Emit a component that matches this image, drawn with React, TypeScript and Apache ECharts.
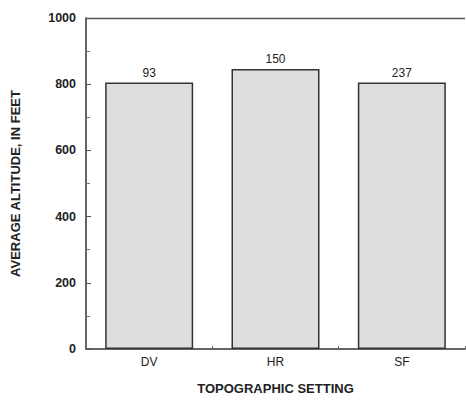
import React, { useEffect, useRef } from "react";
import * as echarts from "echarts";

const categories = ["DV", "HR", "SF"];
const altitudes = [805, 846, 805];
const sampleSizes = ["93", "150", "237"];
const yTicks = [0, 200, 400, 600, 800, 1000];
const yMax = 1000;

const FONT = "'Liberation Sans', Arial, Helvetica, sans-serif";

export default function App() {
  const ref = useRef<HTMLDivElement>(null);
  useEffect(() => {
    if (!ref.current) return;
    const chart = echarts.init(ref.current, undefined, { renderer: "svg" });
    const splitColors = yTicks.map((v) => (v === yMax ? "#555555" : "rgba(0,0,0,0)"));
    chart.setOption({
      animation: false,
      backgroundColor: "#ffffff",
      textStyle: { fontFamily: FONT },
      grid: {
        left: 86,
        right: 1,
        top: 18,
        bottom: 54,
      },
      xAxis: [
        {
          type: "category",
          data: categories,
          position: "bottom",
          name: "TOPOGRAPHIC SETTING",
          nameLocation: "middle",
          nameGap: 33,
          nameTextStyle: { fontFamily: FONT, fontWeight: "bold", fontSize: 13, color: "#222" },
          axisLine: { onZero: false, lineStyle: { color: "#333", width: 1.5 } },
          axisTick: { show: true, inside: true, length: 3, lineStyle: { color: "#666" } },
          axisLabel: { color: "#222", fontSize: 12, margin: 7, fontFamily: FONT },
        },
      ],
      yAxis: [
        {
          type: "value",
          min: 0,
          max: yMax,
          interval: 200,
          position: "left",
          name: "AVERAGE ALTITUDE, IN FEET",
          nameLocation: "middle",
          nameGap: 64,
          nameRotate: 90,
          nameTextStyle: { fontFamily: FONT, fontWeight: "bold", fontSize: 13, color: "#222" },
          axisLine: { show: true, onZero: false, lineStyle: { color: "#333", width: 1.5 } },
          axisTick: { show: true, inside: true, length: 5, lineStyle: { color: "#555" } },
          minorTick: { show: true, splitNumber: 2, length: 4, lineStyle: { color: "#777" } },
          splitLine: { show: true, lineStyle: { color: splitColors, width: 1.3 } },
          axisLabel: {
            color: "#222",
            fontSize: 12.5,
            fontWeight: "bold",
            margin: 10,
            fontFamily: FONT,
            formatter: (v: number) => (yTicks.includes(v) ? String(v) : ""),
          },
        },
      ],
      series: [
        {
          type: "bar",
          data: altitudes,
          barWidth: 88,
          itemStyle: { color: "#dedede", borderColor: "#333", borderWidth: 1.5 },
          label: {
            show: true,
            position: "top",
            distance: 4,
            color: "#222",
            fontSize: 12,
            fontFamily: FONT,
            formatter: (p: any) => sampleSizes[p.dataIndex],
          },
        },
      ],
    });
    return () => chart.dispose();
  }, []);
  return <div ref={ref} style={{ width: 466, height: 403, position: "absolute", left: 0, top: 0 }} />;
}
